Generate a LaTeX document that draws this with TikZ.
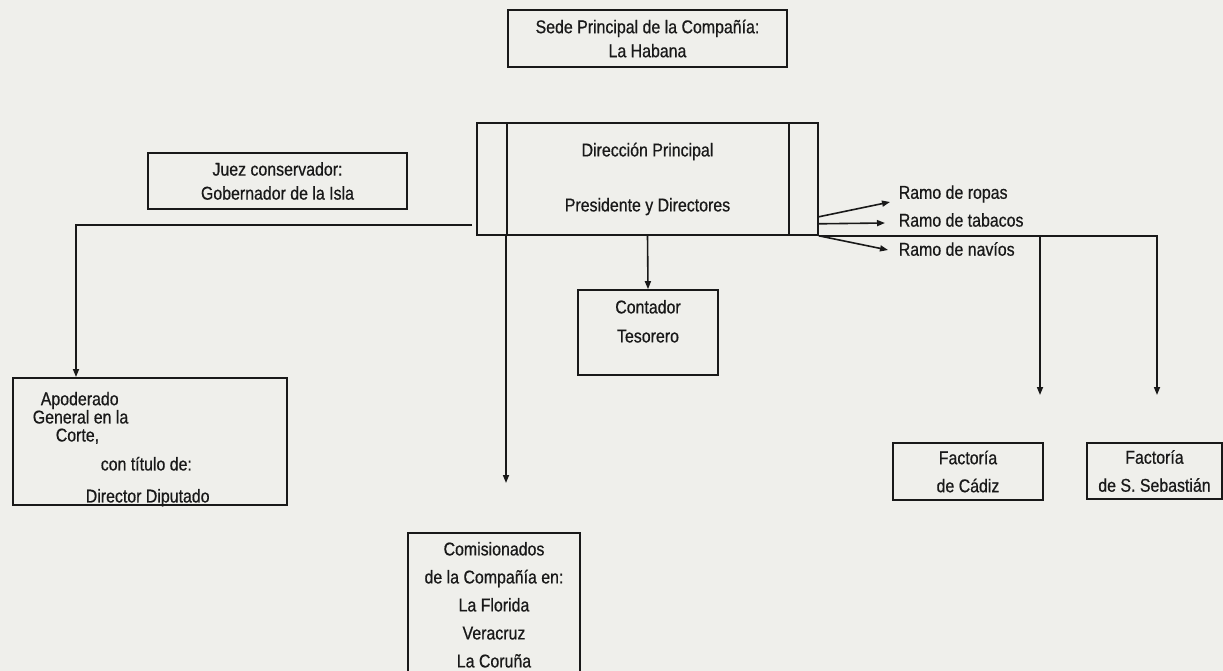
\documentclass[tikz,border=0pt]{standalone}
\usepackage{fontspec}
\setmainfont{Liberation Sans}[FakeStretch=0.86,FakeBold=0.6]
\usepackage{tikz}
\usetikzlibrary{arrows.meta,positioning,calc}
\definecolor{paper}{RGB}{239,239,235}
\definecolor{ink}{RGB}{25,25,25}

\begin{document}
\begin{tikzpicture}[x=1pt,y=-1pt,line width=1.6pt,color=ink,
  font=\fontsize{18.5}{24}\selectfont,
  box/.style={draw,rectangle,inner sep=0pt,align=center},
  txt/.style={inner sep=0pt,align=center},
  arr/.style={-{Triangle[length=8pt,width=6pt]}}]
\fill[paper] (0,0) rectangle (1223,671);
\useasboundingbox (0,0) rectangle (1223,671);
\node[box,minimum width=279,minimum height=57] (sede) at (647.5,38.5) {Sede Principal de la Compañía:\\La Habana};
\node[box,minimum width=341,minimum height=112] (dir) at (647.5,179) {Dirección Principal\\[31pt]Presidente y Directores};
\draw ($(dir.north west)+(31,0)$) -- ($(dir.south west)+(31,0)$);
\draw ($(dir.north east)+(-30,0)$) -- ($(dir.south east)+(-30,0)$);
\node[box,minimum width=259,minimum height=56] (juez) at (277.5,181) {Juez conservador:\\Gobernador de la Isla};
\node[box,anchor=north west,minimum width=274,minimum height=127] (apoderado) at (12,377) {};
\node[txt,anchor=north west,align=left,font=\fontsize{18.5}{16.5}\selectfont] (apoderadotxt) at (32,391)
  {\hspace*{8pt}Apoderado\\General en la\\[1.5pt]\hspace*{23pt}Corte,\\[12.5pt]\hspace*{68pt}con título de:\\[15.5pt]\hspace*{53pt}Director Diputado};
\node[box,minimum width=140,minimum height=85] (contador) at (648,332.5) {};
\node[txt,anchor=north] (contadortxt) at ($(contador.north)+(0,10)$) {Contador\\[5pt]Tesorero};
\node[box,anchor=north,minimum width=172,minimum height=144,font=\fontsize{18.5}{28}\selectfont] (comisionados) at (494,532)
  {Comisionados\\de la Compañía en:\\La Florida\\Veracruz\\La Coruña};
\node[box,minimum width=150,minimum height=57,font=\fontsize{18.5}{28}\selectfont] (cadiz) at (968,471.5) {Factoría\\de Cádiz};
\node[box,minimum width=135,minimum height=56,font=\fontsize{18.5}{28}\selectfont] (sebastian) at (1154.5,471) {Factoría\\de S. Sebastián};
\node[txt,anchor=west] (ropas) at (898,194) {Ramo de ropas};
\node[txt,anchor=west] (tabacos) at (898,220) {Ramo de tabacos};
\node[txt,anchor=west] (navios) at (898,249) {Ramo de navíos};
\coordinate (comtip) at (506,483);
\coordinate (cadtip) at (1040,395);
\coordinate (sebtip) at (1157,395);
\draw[arr] ($(dir.south west)+(-4,-11)$) -| ($(apoderado.north west)+(64,0)$);
\draw[arr] (comtip |- dir.south) -- (comtip);
\draw[arr] (dir.south) -- (contador.north);
\draw[arr] ($(dir.south east)+(0,-19)$) -- ($(ropas.west)+(-8,8)$);
\draw[arr] ($(dir.south east)+(0,-12)$) -- ($(tabacos.west)+(-13,3)$);
\draw[arr] (dir.south east) -- ($(navios.west)+(-10,1)$);
\draw[arr] (dir.south east) -| (sebtip);
\draw[arr] (dir.south east -| cadtip) -- (cadtip);
\end{tikzpicture}
\end{document}
